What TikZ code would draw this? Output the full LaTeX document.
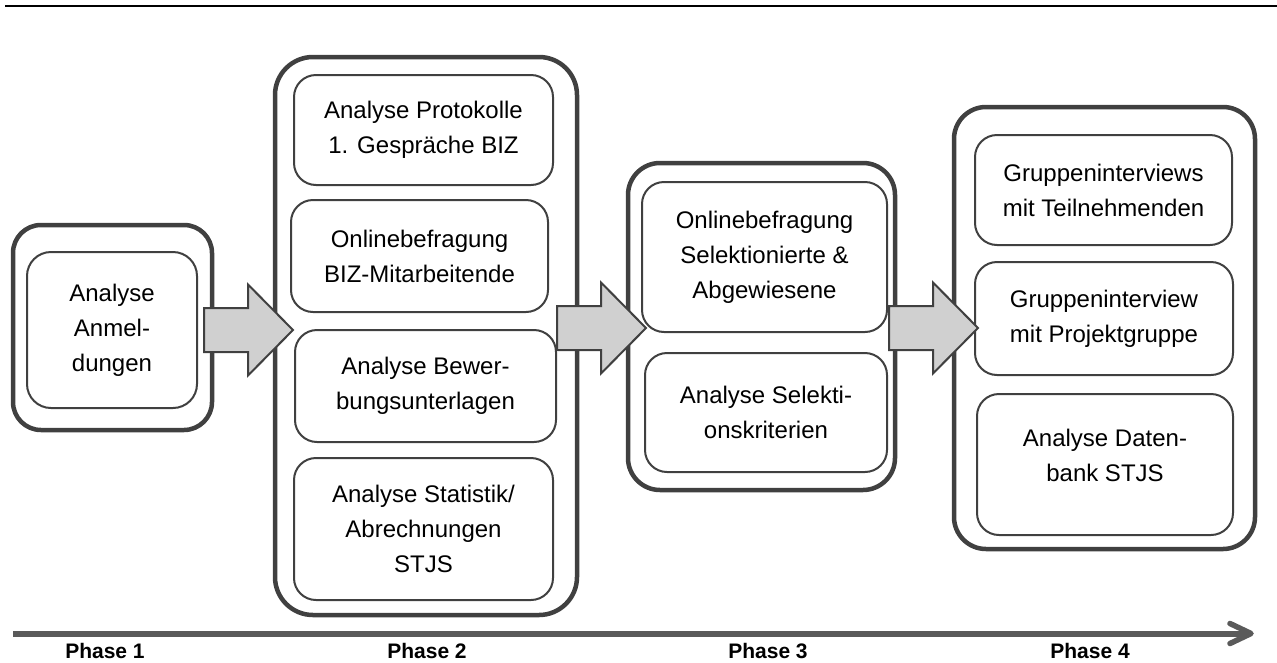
\documentclass[tikz,border=0pt]{standalone}
\usepackage{fontspec}
\setmainfont{Liberation Sans}
\definecolor{dk}{HTML}{404040}
\definecolor{afill}{HTML}{D0D0D0}
\definecolor{tl}{HTML}{5A5A5A}
\tikzset{
  outerbox/.style={draw=dk, line width=4.5pt, rounded corners=32pt, inner sep=0pt},
  innerbox/.style={draw=dk, line width=2pt, rounded corners=22pt, inner sep=0pt,
    align=center, font=\fontsize{24}{35}\selectfont},
  plaintext/.style={inner sep=0pt, align=center, font=\fontsize{24}{35}\selectfont},
  blockarrow/.style={draw=dk, fill=afill, line width=2pt, line join=miter},
  phaselabel/.style={inner sep=0pt, font=\bfseries\fontsize{21}{25}\selectfont},
  timeline/.style={draw=tl, line width=6pt}
}
\begin{document}
\begin{tikzpicture}[x=1pt, y=-1pt]
\useasboundingbox (0,0) rectangle (1277,662);
% top rule
\coordinate (rl) at (5,6);
\coordinate (rr) at (1277,6);
\draw[line width=2pt, black] (rl) -- (rr);

% Phase 1
\node[outerbox, rounded corners=28pt, minimum width=199pt, minimum height=205pt] (p1) at (112.5,327.5) {};
\node[innerbox, rounded corners=24pt, minimum width=170pt, minimum height=156pt] (p1a) at (112,330) {Analyse\\Anmel-\\dungen};

% Phase 2
\node[outerbox, rounded corners=38pt, minimum width=302pt, minimum height=558pt] (p2) at (426,336) {};
\node[innerbox, minimum width=259pt, minimum height=110pt] (p2a) at (423.5,130) {Analyse Protokolle\\1. Gespräche BIZ};
\node[innerbox, minimum width=257pt, minimum height=112pt] (p2b) at (419.5,256) {Onlinebefragung\\BIZ-Mitarbeitende};
\node[innerbox, minimum width=261pt, minimum height=112pt] (p2c) at (425.5,386) {Analyse Bewer-\\bungsunterlagen};
\node[innerbox, minimum width=259pt, minimum height=142pt] (p2d) at (423.5,529) {Analyse Statistik/\\Abrechnungen\\STJS};

% Phase 3
\node[outerbox, minimum width=267pt, minimum height=327pt] (p3) at (761.5,326.5) {};
\node[innerbox, minimum width=245pt, minimum height=150pt] (p3a) at (764.5,257) {Onlinebefragung\\Selektionierte \&\\Abgewiesene};
\node[innerbox, minimum width=242pt, minimum height=119pt] (p3b) at (766,412.5) {Analyse Selekti-\\onskriterien};

% Phase 4
\node[outerbox, minimum width=301pt, minimum height=442pt] (p4) at (1104.5,328) {};
\node[innerbox, minimum width=257pt, minimum height=110pt] (p4a) at (1103.5,190) {Gruppeninterviews\\mit Teilnehmenden};
\node[innerbox, minimum width=258pt, minimum height=113pt] (p4b) at (1104,318.5) {Gruppeninterview\\mit Projektgruppe};
\node[innerbox, minimum width=256pt, minimum height=141pt] (p4c) at (1105,464.5) {};
\node[plaintext] (p4ct) at (1105,455) {Analyse Daten-\\bank STJS};

% block arrows (tips)
\coordinate (t1) at (293,330);
\coordinate (t2) at (646,328);
\coordinate (t3) at (978,328);
\foreach \t in {t1,t2,t3}{
  \draw[blockarrow] (\t) -- ++(-45,-45.5) -- ++(0,23.5) -- ++(-44,0) -- ++(0,44) -- ++(44,0) -- ++(0,23.5) -- cycle;
}

% timeline
\coordinate (tls) at (13,633.5);
\coordinate (tle) at (1249,633.5);
\draw[timeline] (tls) -- (tle);
\coordinate (h1) at (1230,623.5);
\coordinate (h2) at (1230,643.5);
\draw[draw=tl, line width=5.5pt, line cap=round, line join=round] (h1) -- (1251,633.5) -- (h2);

% phase labels
\node[phaselabel] (l1) at (105,651) {Phase 1};
\node[phaselabel] (l2) at (427,651) {Phase 2};
\node[phaselabel] (l3) at (768,651) {Phase 3};
\node[phaselabel] (l4) at (1090,651) {Phase 4};
\end{tikzpicture}
\end{document}
